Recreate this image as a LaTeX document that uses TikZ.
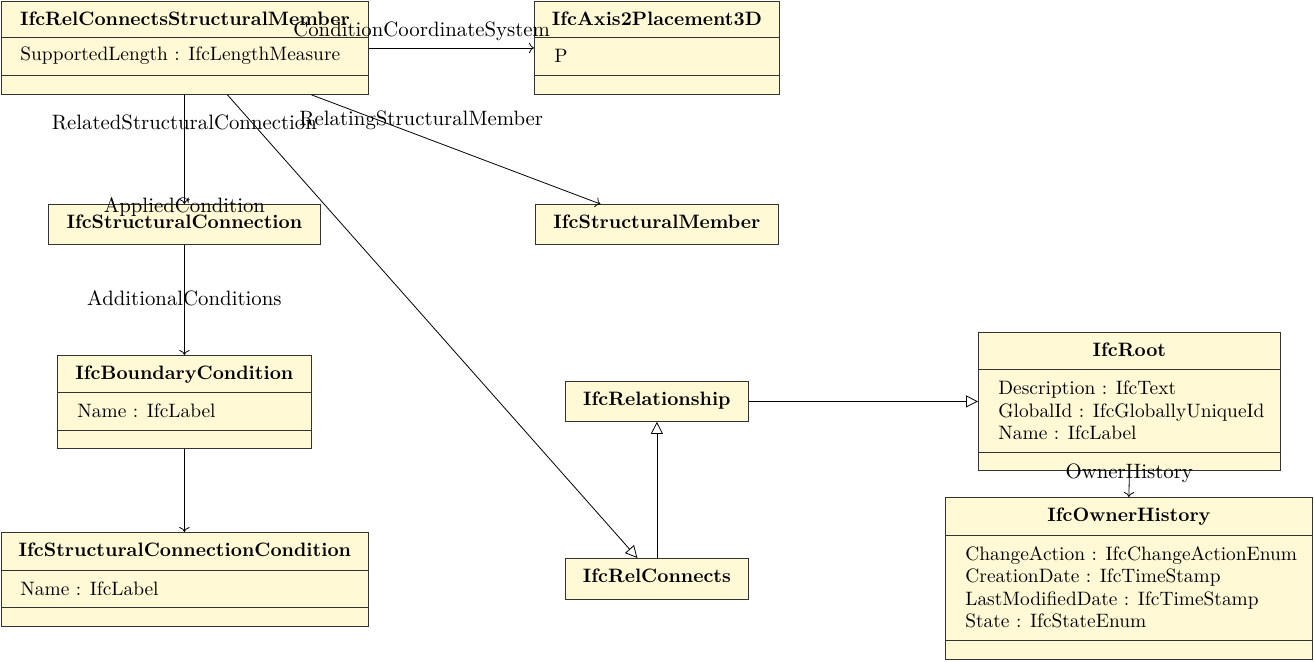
\documentclass[tikz,border=0pt]{standalone}
\usetikzlibrary{arrows.meta}
\definecolor{classfill}{RGB}{255,250,213}
\tikzset{
    classbox/.style={draw=black!80, fill=classfill, anchor=north west, inner sep=0pt},
    classname/.style={font=\fontsize{9.7}{11.25}\selectfont\bfseries, anchor=base, inner sep=0pt},
    attrs/.style={font=\fontsize{9.7}{11.25}\selectfont, anchor=west, align=left, inner sep=0pt},
    sepline/.style={draw=black!80},
    assoc/.style={->},
    inherit/.style={-{Triangle[open,length=6pt,width=6pt]}},
    role/.style={font=\fontsize{10.4}{12}\selectfont, anchor=base, inner sep=0pt}
}

\begin{document}
\begin{tikzpicture}[x=0.5pt,y=-0.5pt]
    \useasboundingbox (0,0) rectangle (1314,661);
    % classes
    \node[classbox, minimum width=183.5pt, minimum height=46.5pt] (rcsm) at (1,1) {};
    \node[classbox, minimum width=122.5pt, minimum height=46.5pt] (axis) at (534,1) {};
    \node[classbox, minimum width=136pt, minimum height=20pt] (sconn) at (48,204) {};
    \node[classbox, minimum width=121.5pt, minimum height=20pt] (smember) at (535,204) {};
    \node[classbox, minimum width=127pt, minimum height=46.5pt] (bcond) at (57,355) {};
    \node[classbox, minimum width=183.5pt, minimum height=47pt] (sccond) at (1,532) {};
    \node[classbox, minimum width=91.5pt, minimum height=20pt] (relship) at (565,381) {};
    \node[classbox, minimum width=91.5pt, minimum height=20.5pt] (relconn) at (565,558) {};
    \node[classbox, minimum width=151pt, minimum height=69pt] (root) at (978,332) {};
    \node[classbox, minimum width=183.5pt, minimum height=81pt] (ownh) at (945,497) {};
    % compartments
    \foreach \cls/\off in {rcsm/18pt, rcsm/37pt, axis/18pt, axis/37pt, bcond/18.5pt, bcond/37.5pt,
                          sccond/19pt, sccond/37.5pt, root/18.5pt, root/60pt, ownh/19pt, ownh/71.5pt}
        \draw[sepline] ([yshift=-\off]\cls.north west) -- ([yshift=-\off]\cls.north east);
    % names
    \foreach \cls/\txt in {rcsm/IfcRelConnectsStructuralMember, axis/IfcAxis2Placement3D,
                          sconn/IfcStructuralConnection, smember/IfcStructuralMember,
                          bcond/IfcBoundaryCondition, sccond/IfcStructuralConnectionCondition,
                          relship/IfcRelationship, relconn/IfcRelConnects, root/IfcRoot,
                          ownh/IfcOwnerHistory}
        \node[classname] (\cls-name) at ([yshift=-12.1pt]\cls.north) {\txt};
    % attributes
    \node[attrs] (rcsm-attr) at ([xshift=9.5pt,yshift=-27.5pt]rcsm.north west) {SupportedLength : IfcLengthMeasure};
    \node[attrs] (axis-attr) at ([xshift=10pt,yshift=-27.5pt]axis.north west) {P};
    \node[attrs] (bcond-attr) at ([xshift=10pt,yshift=-28pt]bcond.north west) {Name : IfcLabel};
    \node[attrs] (sccond-attr) at ([xshift=9.5pt,yshift=-28.25pt]sccond.north west) {Name : IfcLabel};
    \node[attrs] (root-attr) at ([xshift=10pt,yshift=-39.25pt]root.north west)
        {Description : IfcText\\ GlobalId : IfcGloballyUniqueId\\ Name : IfcLabel};
    \node[attrs] (ownh-attr) at ([xshift=10pt,yshift=-45.25pt]ownh.north west)
        {ChangeAction : IfcChangeActionEnum\\ CreationDate : IfcTimeStamp\\
         LastModifiedDate : IfcTimeStamp\\ State : IfcStateEnum};
    % associations
    \draw[assoc] (rcsm.east) -- (axis.west)
        node[role, pos=0.32, yshift=5.75pt] {ConditionCoordinateSystem};
    \draw[assoc] (sconn.north |- rcsm.south) -- (sconn.north)
        node[role, pos=0.32] {RelatedStructuralConnection}
        node[role, pos=1, yshift=-4pt] {AppliedCondition};
    \draw[assoc] ([xshift=63.25pt]rcsm.south) -- ([xshift=-28.25pt]smember.north)
        node[role, pos=0.38, yshift=5.4pt] {RelatingStructuralMember};
    \draw[assoc] (sconn.south) -- (bcond.north)
        node[role, pos=0.555] {AdditionalConditions};
    \draw[assoc] (bcond.south) -- (bcond.south |- sccond.north);
    \draw[assoc] (root.south) -- (ownh.north)
        node[role, pos=0.3] {OwnerHistory};
    % generalisation
    \draw[inherit] ([xshift=21.25pt]rcsm.south) -- ([xshift=-9.75pt]relconn.north);
    \draw[inherit] (relconn.north) -- (relship.south);
    \draw[inherit] (relship.east) -- (root.west);
\end{tikzpicture}
\end{document}
